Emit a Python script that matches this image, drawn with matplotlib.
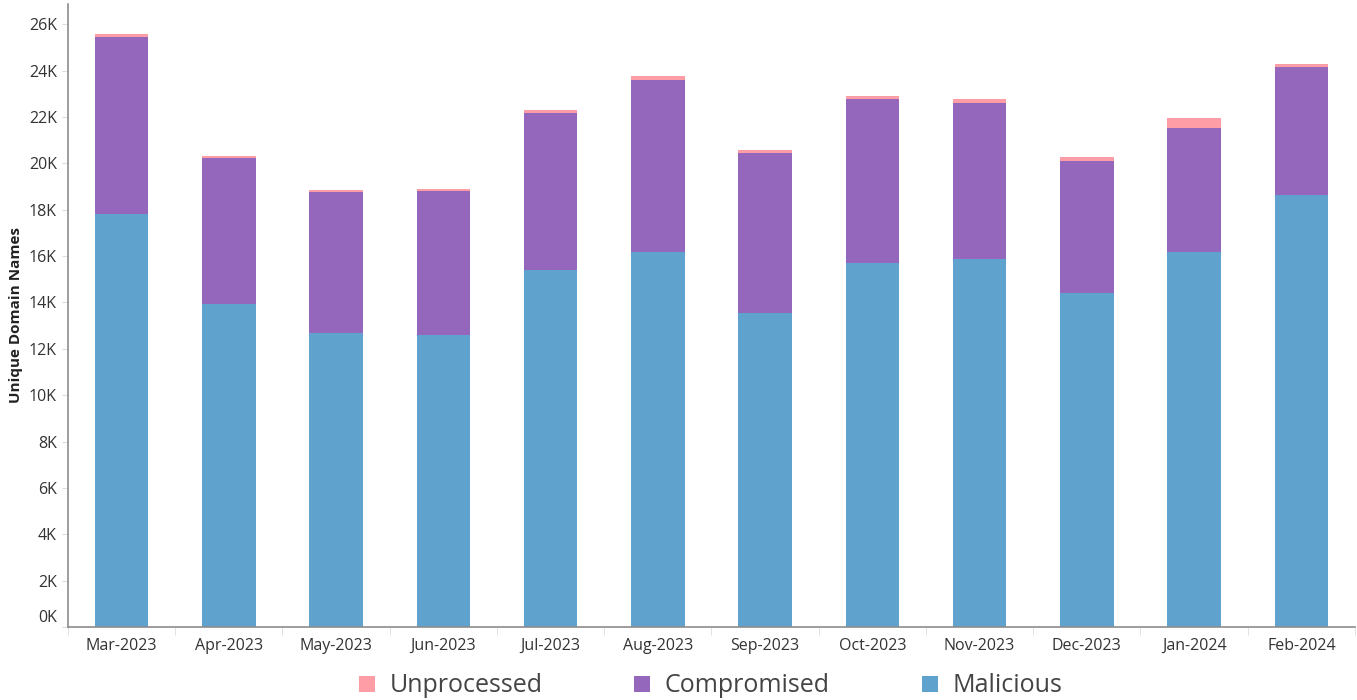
import numpy as np
import matplotlib.pyplot as plt
from matplotlib.lines import Line2D
from matplotlib.transforms import ScaledTranslation

## Data ##

months = ['Mar-2023', 'Apr-2023', 'May-2023', 'Jun-2023', 'Jul-2023', 'Aug-2023',
          'Sep-2023', 'Oct-2023', 'Nov-2023', 'Dec-2023', 'Jan-2024', 'Feb-2024']
malicious = [17810, 13930, 12680, 12590, 15390, 16170, 13540, 15700, 15870, 14400, 16170, 18630]
compromised = [7630, 6290, 6080, 6210, 6770, 7420, 6900, 7070, 6730, 5690, 5350, 5520]
unprocessed = [130, 90, 90, 90, 130, 170, 130, 130, 170, 170, 430, 130]

series_names = ['Malicious', 'Compromised', 'Unprocessed']
colors = {'Malicious': '#5fa2ce', 'Compromised': '#9467bd', 'Unprocessed': '#ff9da7'}

plt.rcParams['font.family'] = ['Open Sans', 'DejaVu Sans']

fig = plt.figure(figsize=(13.57, 7), dpi=100)
ax = fig.add_axes([0.0501, 0.1043, 0.9484, 0.89])

x = np.arange(len(months))
bottom = np.zeros(len(months))
for name, vals in zip(series_names, [malicious, compromised, unprocessed]):
    vals = np.array(vals, dtype=float)
    ax.bar(x, vals, width=0.5, bottom=bottom, color=colors[name], linewidth=0)
    bottom += vals

ax.set_xlim(-0.5, len(months) - 0.5)
ax.set_ylim(0, 26870)

yt = np.arange(0, 26001, 2000)
ax.set_yticks(yt)
ax.set_yticklabels(['%dK' % (v // 1000) for v in yt])
ax.set_xticks(x)
ax.set_xticklabels(months)
ax.set_xticks(np.arange(-0.5, len(months)), minor=True)

ax.tick_params(axis='y', length=4, color='#dddddd', labelsize=11.5, labelcolor='#333333', pad=4)
ax.tick_params(axis='x', which='major', length=0, labelsize=11.5, labelcolor='#333333', pad=8)
ax.tick_params(axis='x', which='minor', length=6, color='#dddddd')

## 0K label sits above the axis floor ##
lab0 = ax.get_yticklabels()[0]
lab0.set_transform(lab0.get_transform() + ScaledTranslation(0, 11 / 100, fig.dpi_scale_trans))

for s in ['top', 'right']:
    ax.spines[s].set_visible(False)
for s in ['left', 'bottom']:
    ax.spines[s].set_color('#8c8c8c')
    ax.spines[s].set_linewidth(1.2)

ax.set_ylabel('Unique Domain Names', fontsize=11, fontweight='bold', color='#222222', labelpad=4)

handles = [Line2D([], [], marker='s', linestyle='none', markersize=12,
                  markerfacecolor=colors[n], markeredgewidth=0)
           for n in ['Unprocessed', 'Compromised', 'Malicious']]
fig.legend(handles, ['Unprocessed', 'Compromised', 'Malicious'], loc='lower center',
           bbox_to_anchor=(0.522, -0.03), ncol=3, frameon=False, fontsize=18,
           handlelength=1, handletextpad=0.4, columnspacing=3.5, labelcolor='#444444')

fig.savefig('out.png', dpi=100)
